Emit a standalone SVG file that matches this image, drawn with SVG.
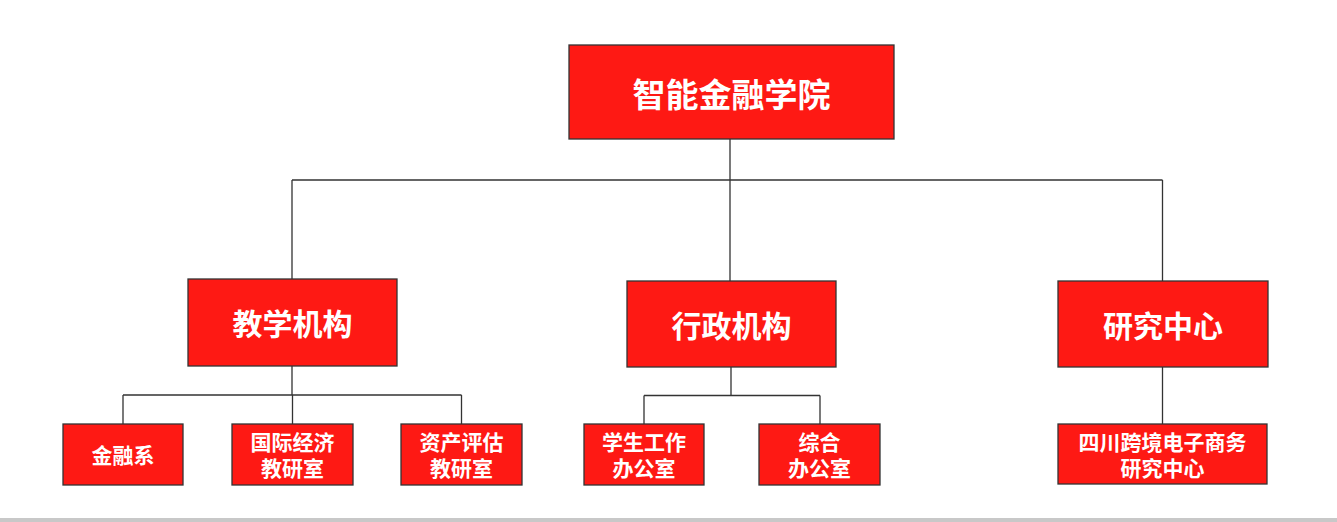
<svg xmlns="http://www.w3.org/2000/svg" width="1337" height="522" viewBox="0 0 1337 522">
<style>
.box{fill:#fe1914;stroke:#333;stroke-width:1.3}
.t{fill:#fff;font-family:"Noto Sans CJK SC","Noto Sans",sans-serif;font-weight:bold;text-anchor:middle;dominant-baseline:central}
.t1{font-size:33px}
.t2{font-size:30px}
.t3{font-size:21px}
.ln{fill:none;stroke:#333;stroke-width:1.3}
</style>
<rect x="0" y="0" width="1337" height="522" fill="#fff"/>
<rect x="0" y="518" width="1337" height="4" fill="#c8c8c8"/>
<g id="connectors">
<path class="ln" d="M730 139V180M292 180H1162.5M292 180V279M730 180V281M1162.5 180V281"/>
<path class="ln" d="M292 366V395M123 395H461.5M123 395V424M292.5 395V424M461.5 395V424"/>
<path class="ln" d="M731 367V395.5M644 395.5H820M644 395.5V424M820 395.5V424"/>
<path class="ln" d="M1162.5 367V424"/>
</g>
<g id="root"><rect class="box" x="569" y="45" width="325" height="94"/><text class="t t1" x="731.5" y="93">智能金融学院</text></g>
<g id="jxjg"><rect class="box" x="188" y="279" width="209" height="87"/><text class="t t2" x="292.5" y="322">教学机构</text></g>
<g id="xzjg"><rect class="box" x="627" y="281" width="209" height="86"/><text class="t t2" x="731.5" y="324">行政机构</text></g>
<g id="yjzx"><rect class="box" x="1058" y="281" width="210" height="86"/><text class="t t2" x="1163" y="324">研究中心</text></g>
<g id="jrx"><rect class="box" x="63" y="424" width="120" height="61"/><text class="t t3" x="123" y="454">金融系</text></g>
<g id="gjjj"><rect class="box" x="232" y="424" width="121" height="61"/><text class="t t3" x="292.5" y="441">国际经济</text><text class="t t3" x="292.5" y="467">教研室</text></g>
<g id="zcpg"><rect class="box" x="401" y="424" width="121" height="61"/><text class="t t3" x="461.5" y="441">资产评估</text><text class="t t3" x="461.5" y="467">教研室</text></g>
<g id="xsgz"><rect class="box" x="584" y="424" width="120" height="61"/><text class="t t3" x="644" y="441">学生工作</text><text class="t t3" x="644" y="467">办公室</text></g>
<g id="zh"><rect class="box" x="759" y="424" width="121" height="61"/><text class="t t3" x="819.5" y="441">综合</text><text class="t t3" x="819.5" y="467">办公室</text></g>
<g id="scdz"><rect class="box" x="1058" y="424" width="209" height="60"/><text class="t t3" x="1162.5" y="441">四川跨境电子商务</text><text class="t t3" x="1162.5" y="467">研究中心</text></g>
</svg>
